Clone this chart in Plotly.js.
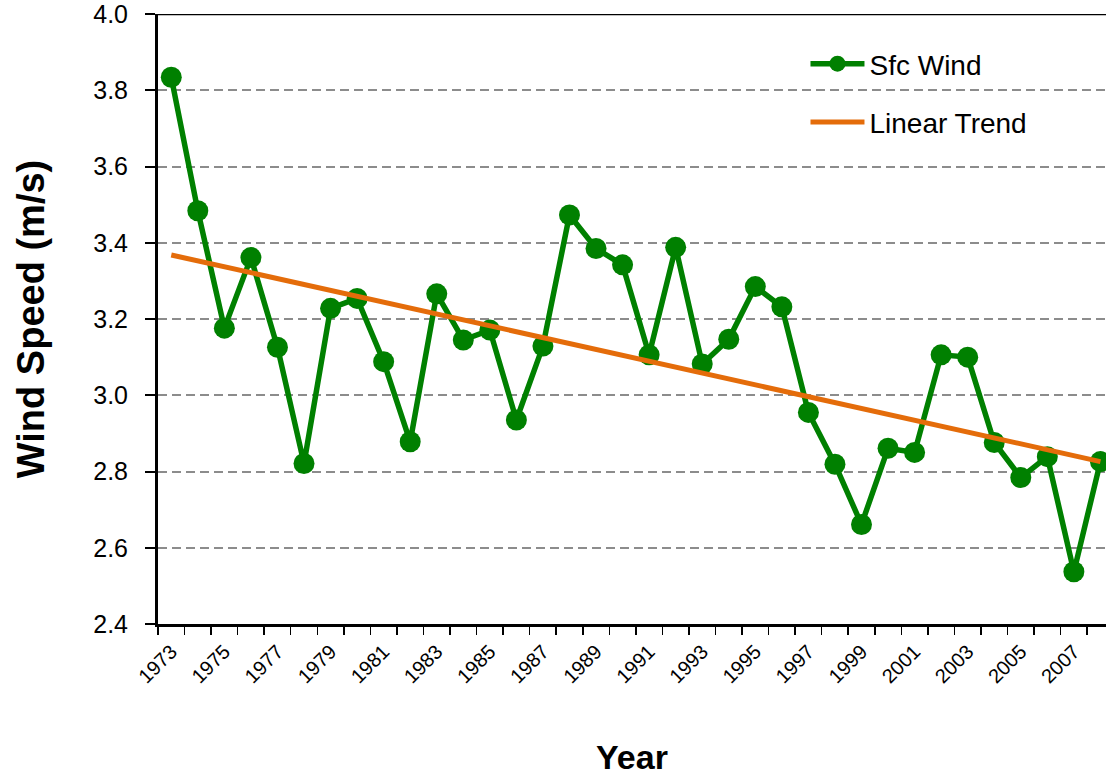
<!DOCTYPE html>
<html>
<head>
<meta charset="utf-8">
<script src="https://cdn.plot.ly/plotly-3.0.1.min.js"></script>
<style>html,body{margin:0;padding:0;background:#fff;}#chart{width:1107px;height:776px;}</style>
</head>
<body>
<div id="chart"></div>
<script>
// Years (categories)
var years = [1973,1974,1975,1976,1977,1978,1979,1980,1981,1982,1983,1984,1985,1986,1987,1988,1989,1990,
             1991,1992,1993,1994,1995,1996,1997,1998,1999,2000,2001,2002,2003,2004,2005,2006,2007,2008];
// Surface wind speed (m/s)
var sfcWind = [3.834,3.484,3.176,3.361,3.126,2.821,3.228,3.254,3.088,2.878,3.266,3.145,3.171,2.935,3.129,3.473,3.385,3.342,
               3.106,3.388,3.082,3.147,3.285,3.232,2.955,2.819,2.661,2.861,2.850,3.106,3.100,2.876,2.784,2.839,2.537,2.826];
// Linear trend end points
var trendYears = [1973, 2008];
var trendValues = [3.368, 2.826];
// Tick labels
var tickYears = [1973,1975,1977,1979,1981,1983,1985,1987,1989,1991,1993,1995,1997,1999,2001,2003,2005,2007];
var tickLabels = ["1973","1975","1977","1979","1981","1983","1985","1987","1989","1991","1993","1995","1997","1999","2001","2003","2005","2007"];
var yTickVals = [2.4, 2.6, 2.8, 3.0, 3.2, 3.4, 3.6, 3.8, 4.0];
var yTickLabels = ["2.4","2.6","2.8","3.0","3.2","3.4","3.6","3.8","4.0"];

var FONT = '"Liberation Sans", Arial, sans-serif';

var traces = [
  {
    x: years, y: sfcWind, name: 'Sfc Wind', type: 'scatter', mode: 'lines+markers',
    line: {color: '#008000', width: 5.5},
    marker: {color: '#008000', size: 21},
    legendgroup: 'a'
  },
  {
    x: trendYears, y: trendValues, name: 'Linear Trend', type: 'scatter', mode: 'lines',
    line: {color: '#E46C0A', width: 5},
    legendgroup: 'b'
  }
];

var layout = {
  width: 1107, height: 776,
  margin: {l: 158, r: 1, t: 14, b: 152},
  paper_bgcolor: '#fff', plot_bgcolor: 'rgba(0,0,0,0)',
  font: {family: FONT, color: '#000'},
  showlegend: true,
  legend: {
    x: 0.683, y: 0.959, xanchor: 'left', yanchor: 'top',
    bgcolor: 'rgba(0,0,0,0)', borderwidth: 0,
    font: {family: FONT, size: 28, color: '#000'},
    traceorder: 'grouped', tracegroupgap: 19, itemwidth: 54
  },
  xaxis: {
    range: [1972.5, 2008.21],
    tickmode: 'array', tickvals: tickYears, ticktext: tickLabels,
    tickangle: -45, ticks: '', tickfont: {family: FONT, size: 20, color: '#000'},
    showline: true, linecolor: '#000', linewidth: 3,
    showgrid: false, zeroline: false,
    minor: {tick0: 1972.5, dtick: 1, ticks: 'outside', ticklen: 8, tickwidth: 1.5, tickcolor: '#000', showgrid: false},
    ticklabelstandoff: 5, ticklabeloverflow: 'allow',
    title: {text: '<b>Year</b>', font: {family: FONT, size: 34, color: '#000'}, standoff: 59}
  },
  yaxis: {
    range: [2.4, 4.0], tickmode: 'array', tickvals: yTickVals, ticktext: yTickLabels,
    ticks: 'outside', ticklen: 10, tickwidth: 2, tickcolor: '#000',
    tickfont: {family: FONT, size: 25, color: '#000'},
    showline: true, linecolor: '#000', linewidth: 3,
    showgrid: true, gridcolor: '#8c8c8c', gridwidth: 2, griddash: '9px,5px',
    zeroline: false, ticklabelstandoff: 12, ticklabeloverflow: 'allow',
    title: {text: '<b>Wind Speed (m/s)</b>', font: {family: FONT, size: 38, color: '#000'}, standoff: 37}
  },
  shapes: [
    {type: 'line', xref: 'paper', yref: 'y', x0: 0, x1: 1, y0: 4.0, y1: 4.0, line: {color: '#000', width: 2.5}, layer: 'below'}
  ]
};

Plotly.newPlot('chart', traces, layout, {displayModeBar: false, staticPlot: true});
</script>
</body>
</html>
